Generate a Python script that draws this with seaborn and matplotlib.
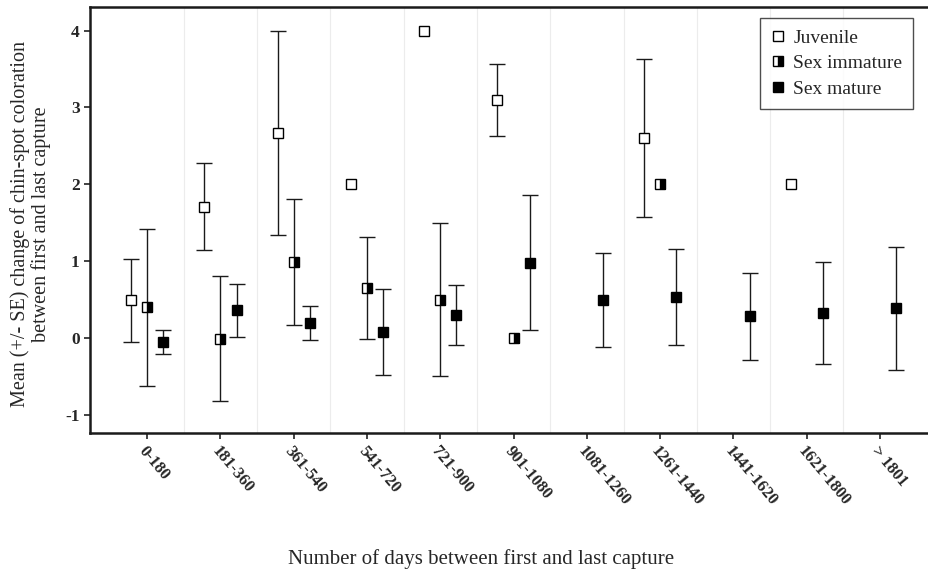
#!/usr/bin/env python3

import numpy as np
import pandas as pd
from matplotlib import pyplot as plt
from matplotlib.lines import Line2D
import seaborn as sns

sns.set_theme(style="ticks")
plt.rcParams['font.family'] = ['Liberation Serif', 'DejaVu Serif']

nan = np.nan

categories = ['0-180', '181-360', '361-540', '541-720', '721-900', '901-1080',
              '1081-1260', '1261-1440', '1441-1620', '1621-1800', '> 1801']

juvenile_mean = [0.49, 1.71, 2.67, 2.0, 4.0, 3.10, nan, 2.60, nan, 2.0, nan]
juvenile_se = [0.54, 0.57, 1.33, 0.0, 0.0, 0.47, nan, 1.03, nan, 0.0, nan]

immature_mean = [0.40, -0.01, 0.99, 0.65, 0.50, 0.0, nan, 2.0, nan, nan, nan]
immature_se = [1.02, 0.815, 0.815, 0.665, 1.0, 0.0, nan, 0.0, nan, nan, nan]

mature_mean = [-0.05, 0.36, 0.20, 0.08, 0.30, 0.98, 0.49, 0.53, 0.28, 0.33, 0.39]
mature_se = [0.16, 0.345, 0.22, 0.56, 0.385, 0.88, 0.61, 0.625, 0.57, 0.665, 0.80]


def build_frame():
    rows = []
    series = [('Juvenile', juvenile_mean, juvenile_se),
              ('Sex immature', immature_mean, immature_se),
              ('Sex mature', mature_mean, mature_se)]
    for name, means, ses in series:
        for i, (m, s) in enumerate(zip(means, ses)):
            if not np.isnan(m):
                rows.append({'group': name, 'cat': i, 'mean': m, 'se': s})
    return pd.DataFrame(rows)


def create_plot(df: pd.DataFrame, to_file: str):
    fig = plt.figure(figsize=(9.29, 5.76), dpi=100)
    ax = fig.add_axes([90 / 929, (576 - 433.3) / 576, 839 / 929, 426.6 / 576])

    styles = {
        'Juvenile': dict(offset=-0.22, mfc='white', mec='black', fillstyle='full', alt='white'),
        'Sex immature': dict(offset=0.0, mfc='black', mec='black', fillstyle='right', alt='white'),
        'Sex mature': dict(offset=0.22, mfc='black', mec='black', fillstyle='full', alt='black'),
    }

    handles = []
    for name, st in styles.items():
        sub = df[df['group'] == name]
        x = sub['cat'] + st['offset']
        se = sub['se'].where(sub['se'] > 0, np.nan)
        ax.errorbar(x, sub['mean'], yerr=se, fmt='none', ecolor='#1a1a1a',
                    elinewidth=1.0, capsize=6, capthick=1.0, zorder=2)
        ax.plot(x, sub['mean'], ls='none', marker='s', markersize=7,
                markerfacecolor=st['mfc'], markeredgecolor=st['mec'],
                markerfacecoloralt=st['alt'], fillstyle=st['fillstyle'],
                markeredgewidth=1.0, zorder=3)
        handles.append(Line2D([], [], ls='none', marker='s', markersize=6.5,
                              markerfacecolor=st['mfc'], markeredgecolor=st['mec'],
                              markerfacecoloralt=st['alt'], fillstyle=st['fillstyle'],
                              markeredgewidth=1.0, label=name))

    ax.set_xlim(-0.78, len(categories) - 1 + 0.668)
    ax.set_ylim(-1.24, 4.31)
    ax.set_xticks(range(len(categories)))
    ax.set_xticklabels(categories, rotation=-50, ha='left', va='top',
                       rotation_mode='anchor', fontweight='bold', fontsize=12)
    ax.set_yticks(range(-1, 5))
    ax.set_yticklabels([str(v) for v in range(-1, 5)], fontweight='bold', fontsize=12.5)
    ax.tick_params(axis='both', direction='out', length=4, width=1.2, color='#222222')
    ax.tick_params(axis='x', pad=3)

    ax.set_xticks(np.arange(0.5, len(categories) - 1, 1.0), minor=True)
    ax.tick_params(axis='x', which='minor', length=0)
    ax.grid(axis='x', which='minor', color='#ececec', linewidth=0.8)
    ax.set_axisbelow(True)

    for side in ['left', 'bottom', 'top']:
        ax.spines[side].set_linewidth(1.8)
        ax.spines[side].set_color('#1a1a1a')
    ax.spines['right'].set_visible(False)

    ax.set_ylabel('Mean (+/- SE) change of chin-spot coloration\nbetween first and last capture',
                  fontsize=14.5, linespacing=1.05)
    ax.yaxis.set_label_coords(-0.047, 0.49)
    ax.set_xlabel('Number of days between first and last capture', fontsize=15)
    ax.xaxis.set_label_coords(0.466, -0.272)

    leg = ax.legend(handles=handles, loc='upper right', bbox_to_anchor=(0.981, 0.973),
                    borderaxespad=0, fontsize=14, frameon=True, fancybox=False,
                    handlelength=0.7, handletextpad=0.45, labelspacing=0.42,
                    borderpad=0.55)
    leg.get_frame().set_edgecolor('#222222')
    leg.get_frame().set_linewidth(1.0)

    fig.savefig(to_file, dpi=100)


if __name__ == '__main__':
    create_plot(build_frame(), 'out.png')
